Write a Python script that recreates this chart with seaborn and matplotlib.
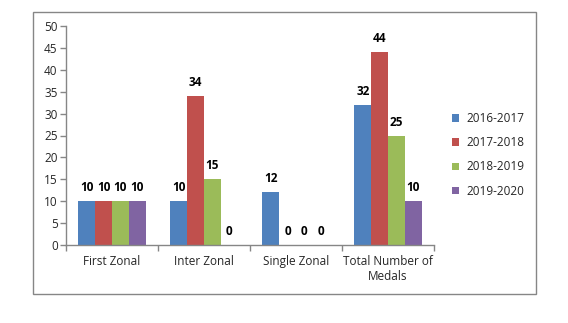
import matplotlib
matplotlib.use("Agg")
import matplotlib.pyplot as plt
import seaborn as sns
import pandas as pd
from matplotlib.patches import Rectangle

categories = ["First Zonal", "Inter Zonal", "Single Zonal", "Total Number of\nMedals"]
series = ["2016-2017", "2017-2018", "2018-2019", "2019-2020"]
values = {
    "2016-2017": [10, 10, 12, 32],
    "2017-2018": [10, 34, 0, 44],
    "2018-2019": [10, 15, 0, 25],
    "2019-2020": [10, 0, 0, 10],
}
colors = ["#4F81BD", "#C0504D", "#9BBB59", "#8064A2"]
yticks = list(range(0, 51, 5))

rows = []
for s in series:
    for c, v in zip(categories, values[s]):
        rows.append({"Category": c, "Season": s, "Medals": v})
df = pd.DataFrame(rows)

sns.set_theme(style="white")
plt.rcParams["font.family"] = ["Open Sans", "DejaVu Sans"]

fig = plt.figure(figsize=(5.68, 3.23), dpi=100)
ax = fig.add_axes([66/568, 1-245/323, (434-66)/568, (245-26)/323])

sns.barplot(data=df, x="Category", y="Medals", hue="Season", order=categories,
            hue_order=series, palette=colors, width=0.73, gap=0, ax=ax,
            saturation=1, errorbar=None, legend=True, linewidth=0, edgecolor="none")

for cont in ax.containers:
    ax.bar_label(cont, fmt="%d", padding=5, fontsize=8.5, fontweight="bold", color="#000000")

ax.set_ylim(0, 50)
ax.set_yticks(yticks)
ax.set_xlim(-0.5, len(categories) - 0.5)
ax.set_xticks([i - 0.5 for i in range(len(categories) + 1)])
ax.set_xticklabels([])
ax.set_xticks(range(len(categories)), minor=True)
ax.set_xticklabels(categories, minor=True, fontsize=8.5)
ax.tick_params(axis="x", which="minor", length=0, pad=7)
ax.tick_params(axis="x", which="major", length=4, width=1, color="#868686", direction="out", bottom=True)
ax.tick_params(axis="y", length=4, width=1, color="#868686", direction="out", left=True, labelsize=8.5, pad=2)
ax.set_xlabel("")
ax.set_ylabel("")
for side in ["top", "right"]:
    ax.spines[side].set_visible(False)
for side in ["left", "bottom"]:
    ax.spines[side].set_color("#868686")
    ax.spines[side].set_linewidth(1)

h, l = ax.get_legend_handles_labels()
ax.get_legend().remove()
fig.legend(h, l, loc="upper left", bbox_to_anchor=(452/568, 1-112/323), frameon=False,
           fontsize=8.5, handlelength=0.6, handleheight=0.6, handletextpad=0.6,
           labelspacing=0.95, borderaxespad=0, borderpad=0)

fig.patches.append(Rectangle((33/568, 1-294/323), (536-33)/568, (294-12)/323,
                             transform=fig.transFigure, fill=False,
                             edgecolor="#868686", linewidth=1, zorder=0))

fig.savefig("out.png", dpi=100)
